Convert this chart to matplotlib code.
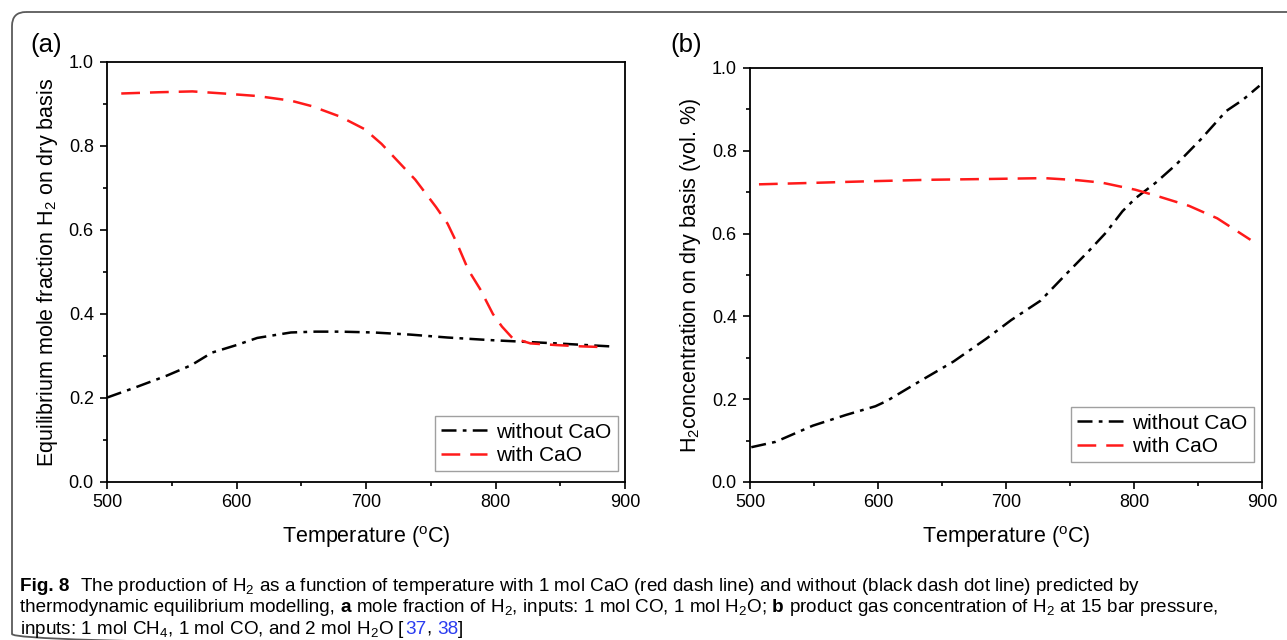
import numpy as np
import matplotlib
matplotlib.use("Agg")
import matplotlib.pyplot as plt
from matplotlib.patches import FancyBboxPatch
from matplotlib.ticker import MultipleLocator

plt.rcParams['font.family'] = ['Liberation Sans', 'DejaVu Sans']
plt.rcParams['mathtext.fontset'] = 'custom'
plt.rcParams['mathtext.rm'] = 'Liberation Sans'
plt.rcParams['mathtext.it'] = 'Liberation Sans:italic'

# ---------------- data ----------------
# (a) mole fraction of H2, inputs 1 mol CO, 1 mol H2O
a_t_with = [511, 540, 566, 590, 616, 642, 658, 680, 699, 712, 738, 754, 763,
            770, 779, 788, 798, 805, 813, 827, 847, 866, 885]
a_with = [0.925, 0.928, 0.930, 0.925, 0.919, 0.908, 0.895, 0.870, 0.840, 0.805,
          0.720, 0.655, 0.615, 0.570, 0.505, 0.460, 0.400, 0.370, 0.343, 0.330,
          0.326, 0.323, 0.321]
a_t_without = [500, 520, 546, 565, 581, 600, 616, 642, 661, 680, 706, 734, 763,
               795, 821, 847, 888]
a_without = [0.201, 0.223, 0.253, 0.278, 0.308, 0.326, 0.343, 0.356, 0.358, 0.358,
             0.356, 0.351, 0.344, 0.338, 0.334, 0.330, 0.323]

# (b) H2 concentration at 15 bar, inputs 1 mol CH4, 1 mol CO, 2 mol H2O
b_t_with = [507, 543, 588, 640, 688, 730, 756, 775, 801, 820, 843, 865, 891]
b_with = [0.719, 0.722, 0.726, 0.730, 0.732, 0.734, 0.729, 0.723, 0.706, 0.689,
          0.667, 0.637, 0.585]
b_t_without = [501, 520, 549, 575, 598, 607, 633, 659, 685, 704, 727, 746, 765,
               778, 791, 801, 817, 833, 852, 872, 885, 898]
b_without = [0.084, 0.097, 0.136, 0.162, 0.183, 0.196, 0.244, 0.291, 0.347, 0.391,
             0.438, 0.499, 0.559, 0.602, 0.654, 0.685, 0.723, 0.767, 0.827, 0.896,
             0.923, 0.957]

x_ticks = [500, 600, 700, 800, 900]
y_ticks = [0.0, 0.2, 0.4, 0.6, 0.8, 1.0]
legend_labels = ["without CaO", "with CaO"]

caption_lines = [
    [("Fig. 8", "bold", "black"), ("  The production of H$_2$ as a function of temperature with 1 mol CaO (red dash line) and without (black dash dot line) predicted by", "normal", "black")],
    [("thermodynamic equilibrium modelling, ", "normal", "black"), ("a", "bold", "black"),
     (" mole fraction of H$_2$, inputs: 1 mol CO, 1 mol H$_2$O; ", "normal", "black"), ("b", "bold", "black"),
     (" product gas concentration of H$_2$ at 15 bar pressure,", "normal", "black")],
    [("inputs: 1 mol CH$_4$, 1 mol CO, and 2 mol H$_2$O [", "normal", "black"), ("37", "normal", "#2a3cf0"),
     (", ", "normal", "black"), ("38", "normal", "#2a3cf0"), ("]", "normal", "black")],
]

RED_DASH = (0, (7.5, 4))
BLACK_DASHDOT = (0, (6, 2.5, 1.5, 2.5))


def style_axes(ax, ylabel):
    ax.set_xlim(500, 900)
    ax.set_ylim(0.0, 1.0)
    ax.set_xticks(x_ticks)
    ax.set_yticks(y_ticks)
    ax.set_yticklabels([f"{v:.1f}" for v in y_ticks])
    ax.xaxis.set_minor_locator(MultipleLocator(50))
    ax.yaxis.set_minor_locator(MultipleLocator(0.1))
    ax.tick_params(which="both", direction="out", labelsize=13, width=1.2)
    ax.tick_params(which="major", length=5)
    ax.tick_params(axis="x", which="major", pad=3.5)
    ax.tick_params(axis="y", which="major", pad=4.5)
    ax.tick_params(which="minor", length=3)
    for s in ax.spines.values():
        s.set_linewidth(1.3)
    ax.set_xlabel("Temperature ($^{\\mathrm{o}}$C)", fontsize=15.5, labelpad=10)
    ax.set_ylabel(ylabel, fontsize=15.5, labelpad=6)


def draw_caption(fig, lines, x0, y0, dy, size):
    renderer = fig.canvas.get_renderer()
    fam = ['Liberation Sans Narrow', 'Liberation Sans', 'DejaVu Sans']
    probe = fig.text(0, 0, "a a", fontsize=size, family=fam)
    w2 = probe.get_window_extent(renderer).width
    probe.set_text("aa")
    space = w2 - probe.get_window_extent(renderer).width
    probe.remove()
    for i, line in enumerate(lines):
        x = x0 * fig.bbox.width
        y = y0 - i * dy
        for txt, weight, color in line:
            lead = len(txt) - len(txt.lstrip(" "))
            trail = len(txt) - len(txt.rstrip(" "))
            x += lead * space
            core = txt.strip(" ")
            t = fig.text(x / fig.bbox.width, y, core, fontsize=size, family=fam,
                         weight=weight, color=color, va="baseline")
            x += t.get_window_extent(renderer).width + trail * space


fig = plt.figure(figsize=(12.87, 6.4), dpi=100)

# frame round the whole figure, drawn in pixel units on a background axes
bg = fig.add_axes([0, 0, 1, 1], zorder=-1)
bg.set_xlim(0, 1287)
bg.set_ylim(640, 0)
bg.axis("off")
bg.add_patch(FancyBboxPatch((12, 12), 1350, 636,
                            boxstyle="round,pad=0,rounding_size=14",
                            fill=False, edgecolor="#5a5a5a", linewidth=1.3,
                            clip_on=False))

ax1 = fig.add_axes([107 / 1287, 1 - 482 / 640, 518 / 1287, 420 / 640])
ax2 = fig.add_axes([750 / 1287, 1 - 482 / 640, 512 / 1287, 414 / 640])

ax1.plot(a_t_without, a_without, color="black", lw=1.8, ls=BLACK_DASHDOT, label=legend_labels[0])
ax1.plot(a_t_with, a_with, color="#ff1a1a", lw=1.8, ls=RED_DASH, label=legend_labels[1])
style_axes(ax1, "Equilibrium mole fraction H$_2$ on dry basis")

ax2.plot(b_t_without, b_without, color="black", lw=1.8, ls=BLACK_DASHDOT, label=legend_labels[0])
ax2.plot(b_t_with, b_with, color="#ff1a1a", lw=1.8, ls=RED_DASH, label=legend_labels[1])
style_axes(ax2, "H$_2$concentration on dry basis (vol. %)")

for ax, anchor in ((ax1, (0.986, 0.026)), (ax2, (0.984, 0.048))):
    leg = ax.legend(loc="lower right", bbox_to_anchor=anchor, fontsize=15,
                    frameon=True, fancybox=False, edgecolor="#888888",
                    handlelength=2.2, handletextpad=0.45, borderpad=0.3,
                    labelspacing=0.2, borderaxespad=0)
    leg.get_frame().set_linewidth(1.0)

fig.text(30 / 1287, 1 - 45 / 640, "(a)", fontsize=18.5, va="center")
fig.text(670 / 1287, 1 - 45 / 640, "(b)", fontsize=18.5, va="center")

draw_caption(fig, caption_lines, 20 / 1287, 1 - 591 / 640, 21.5 / 640, 13.6)

fig.savefig("out.png", dpi=100)
